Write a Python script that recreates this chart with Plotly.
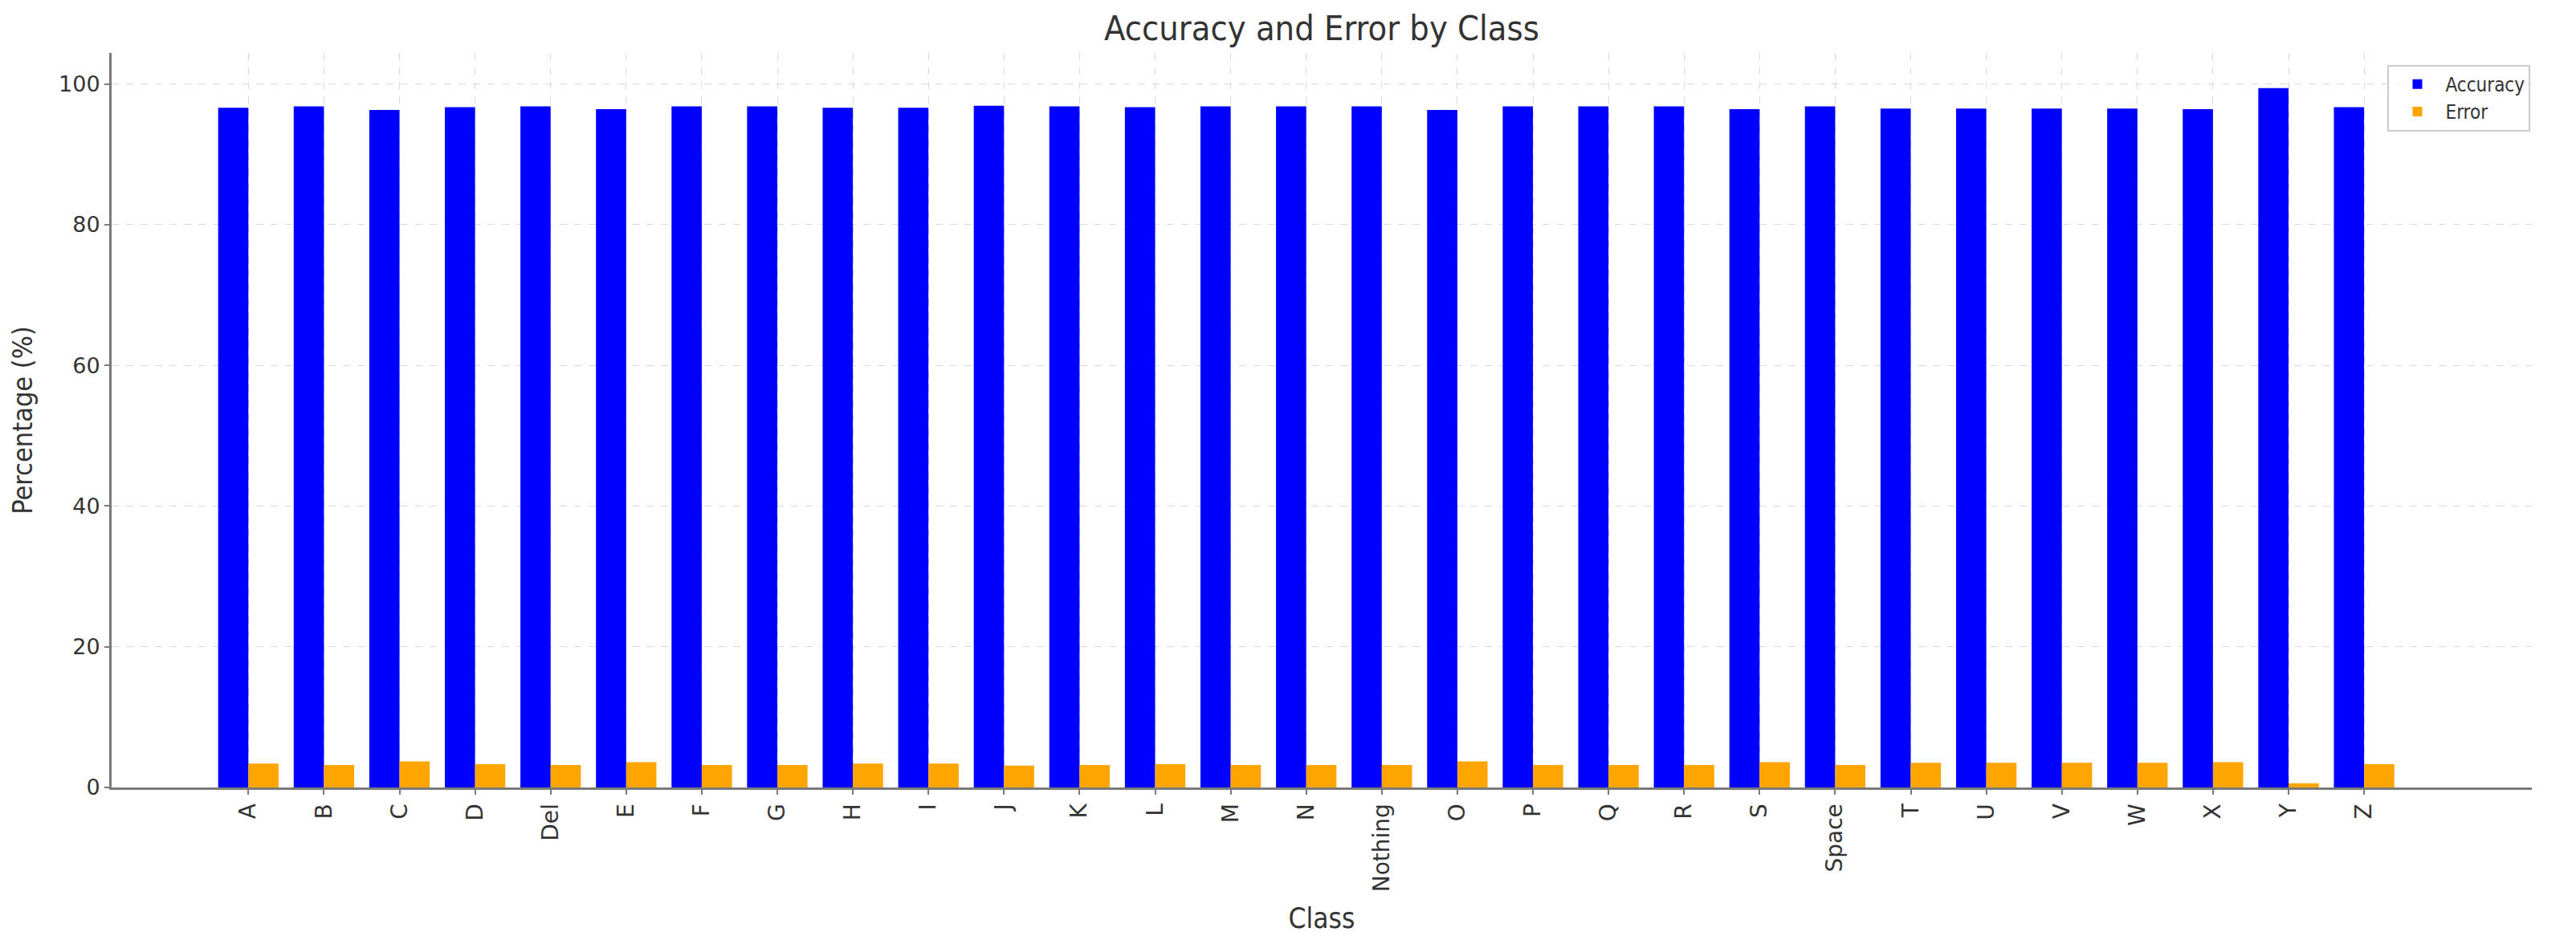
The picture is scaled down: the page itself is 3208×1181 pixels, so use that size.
import plotly.graph_objects as go

# Per-class results
classes = ["A", "B", "C", "D", "Del", "E", "F", "G", "H", "I", "J", "K", "L", "M", "N",
           "Nothing", "O", "P", "Q", "R", "S", "Space", "T", "U", "V", "W", "X", "Y", "Z"]
accuracy = [96.6, 96.8, 96.3, 96.7, 96.8, 96.4, 96.8, 96.8, 96.6, 96.6, 96.9, 96.8, 96.7, 96.8, 96.8,
            96.8, 96.3, 96.8, 96.8, 96.8, 96.4, 96.8, 96.5, 96.5, 96.5, 96.5, 96.4, 99.4, 96.7]
error = [3.4, 3.2, 3.7, 3.3, 3.2, 3.6, 3.2, 3.2, 3.4, 3.4, 3.1, 3.2, 3.3, 3.2, 3.2,
         3.2, 3.7, 3.2, 3.2, 3.2, 3.6, 3.2, 3.5, 3.5, 3.5, 3.5, 3.6, 0.6, 3.3]
y_ticks = [0, 20, 40, 60, 80, 100]

label_font = "DejaVu Sans Condensed, Liberation Sans Narrow, DejaVu Sans"
tick_font = "DejaVu Sans"

acc_trace = go.Bar(x=classes, y=accuracy, name="Accuracy",
                   marker=dict(color="#0000ff", line=dict(width=0)))
err_trace = go.Bar(x=classes, y=error, name="Error",
                   marker=dict(color="#ffa500", line=dict(width=0)))

layout = go.Layout(
    width=3208, height=1181,
    margin=dict(l=131, r=63, t=58, b=208),
    paper_bgcolor="white", plot_bgcolor="white",
    barmode="group", bargap=0.2, bargroupgap=0,
    title=dict(text="Accuracy and Error by Class", x=0.5, xref="paper", xanchor="center",
               y=0.977, yref="container", yanchor="middle",
               font=dict(family=label_font, size=43, color="#333333")),
    xaxis=dict(
        title=dict(text="Class", font=dict(family=label_font, size=35, color="#333333"), standoff=22),
        type="category", range=[-1.81, 30.22],
        tickangle=-90, tickfont=dict(family=tick_font, size=28, color="#333333"),
        showline=True, linecolor="#7a7a7a", linewidth=3,
        ticks="outside", ticklen=6, tickcolor="#7a7a7a", tickwidth=2,
        showgrid=True, gridcolor="#d9d9d9", griddash="dash", gridwidth=1,
        zeroline=False,
    ),
    yaxis=dict(
        title=dict(text="Percentage (%)", font=dict(family=label_font, size=34, color="#333333"), standoff=24),
        range=[0, 104.4], tickvals=y_ticks,
        tickfont=dict(family=tick_font, size=27, color="#333333"),
        showline=True, linecolor="#7a7a7a", linewidth=3,
        ticks="outside", ticklen=6, tickcolor="#7a7a7a", tickwidth=2,
        showgrid=True, gridcolor="#d9d9d9", griddash="dash", gridwidth=1,
        zeroline=False,
    ),
    legend=dict(x=0.9995, y=0.984, xanchor="right", yanchor="top",
                bgcolor="rgba(255,255,255,0.75)", bordercolor="#cccccc", borderwidth=2,
                font=dict(family=label_font, size=24, color="#333333"),
                itemwidth=60, entrywidth=110, entrywidthmode="pixels", tracegroupgap=0),
)

fig = go.Figure(data=[acc_trace, err_trace], layout=layout)
fig.write_html("out.html")
